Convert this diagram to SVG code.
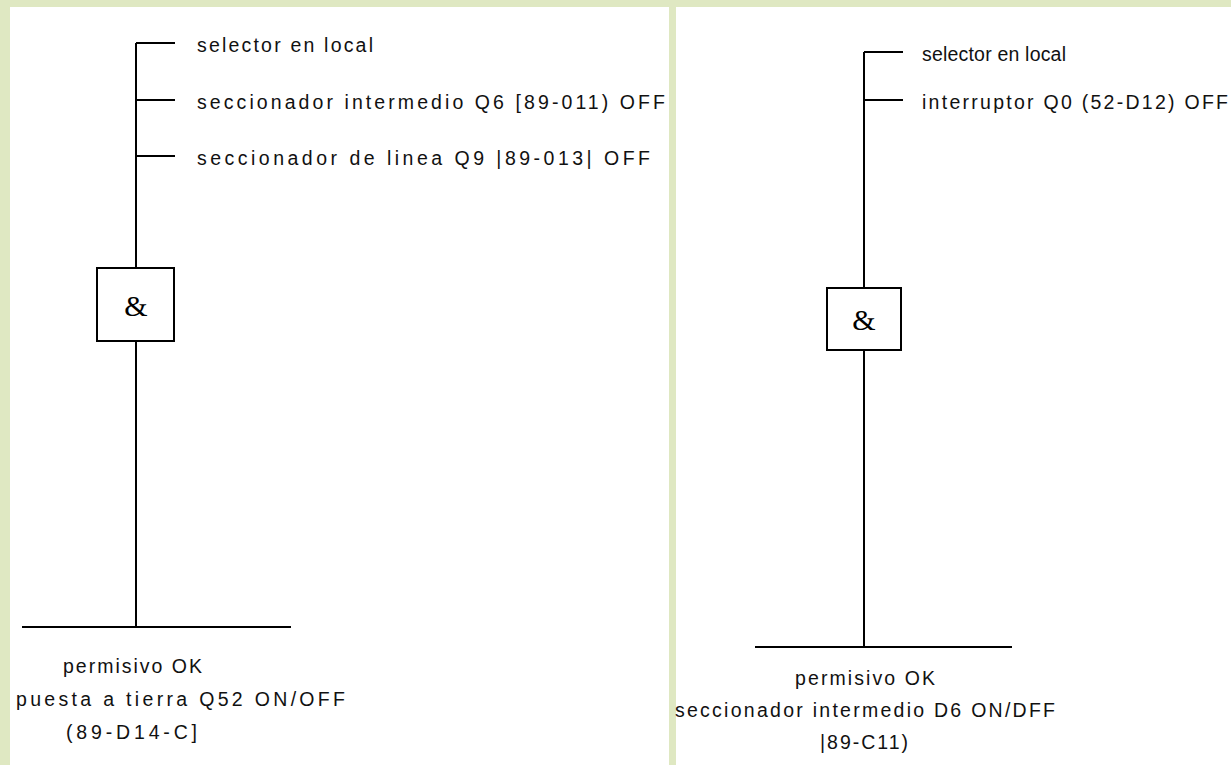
<svg xmlns="http://www.w3.org/2000/svg" width="1231" height="765" viewBox="0 0 1231 765">
<style>
.ln{stroke:#000;stroke-width:2;fill:none}
.bx{stroke:#000;stroke-width:2;fill:#fff}
.t{font-family:"Liberation Sans",Arial,sans-serif;font-size:19.5px;fill:#111}
.amp{font-family:"Liberation Serif","Times New Roman",serif;font-size:30px;fill:#000;text-anchor:middle}
</style>
<rect x="0" y="0" width="1231" height="765" fill="#dfe8c2"/>
<rect x="10" y="7" width="659" height="758" fill="#fff"/>
<rect x="676" y="7" width="555" height="758" fill="#fff"/>
<g id="connectors">
<path class="ln" d="M136 43V627M136 43H175M136 100H175M136 156H175M22 627H291"/>
<path class="ln" d="M864 52V647M864 52H903M864 100H903M755 647H1012"/>
</g>
<g id="left-inputs">
<text class="t" x="197" y="52" textLength="176" lengthAdjust="spacing">selector en local</text>
<text class="t" x="197" y="109" textLength="468" lengthAdjust="spacing">seccionador intermedio Q6 [89-011) OFF</text>
<text class="t" x="197" y="165" textLength="453" lengthAdjust="spacing">seccionador de linea Q9  |89-013| OFF</text>
</g>
<g id="left-and">
<rect class="bx" x="97" y="268" width="77" height="73"/>
<text class="amp" x="136" y="316">&amp;</text>
</g>
<g id="left-output">
<text class="t" x="63" y="673" textLength="139" lengthAdjust="spacing">permisivo OK</text>
<text class="t" x="16" y="706" textLength="329" lengthAdjust="spacing">puesta a tierra Q52 ON/OFF</text>
<text class="t" x="66" y="739" textLength="131" lengthAdjust="spacing">(89-D14-C]</text>
</g>
<g id="right-inputs">
<text class="t" x="922" y="61" textLength="144" lengthAdjust="spacing">selector en local</text>
<text class="t" x="922" y="109" textLength="306" lengthAdjust="spacing">interruptor Q0 (52-D12) OFF</text>
</g>
<g id="right-and">
<rect class="bx" x="827" y="288" width="74" height="62"/>
<text class="amp" x="864" y="330">&amp;</text>
</g>
<g id="right-output">
<text class="t" x="795" y="685" textLength="140" lengthAdjust="spacing">permisivo OK</text>
<text class="t" x="675" y="717" textLength="380" lengthAdjust="spacing">seccionador intermedio D6 ON/DFF</text>
<text class="t" x="820" y="749" textLength="88" lengthAdjust="spacing">|89-C11)</text>
</g>
</svg>
